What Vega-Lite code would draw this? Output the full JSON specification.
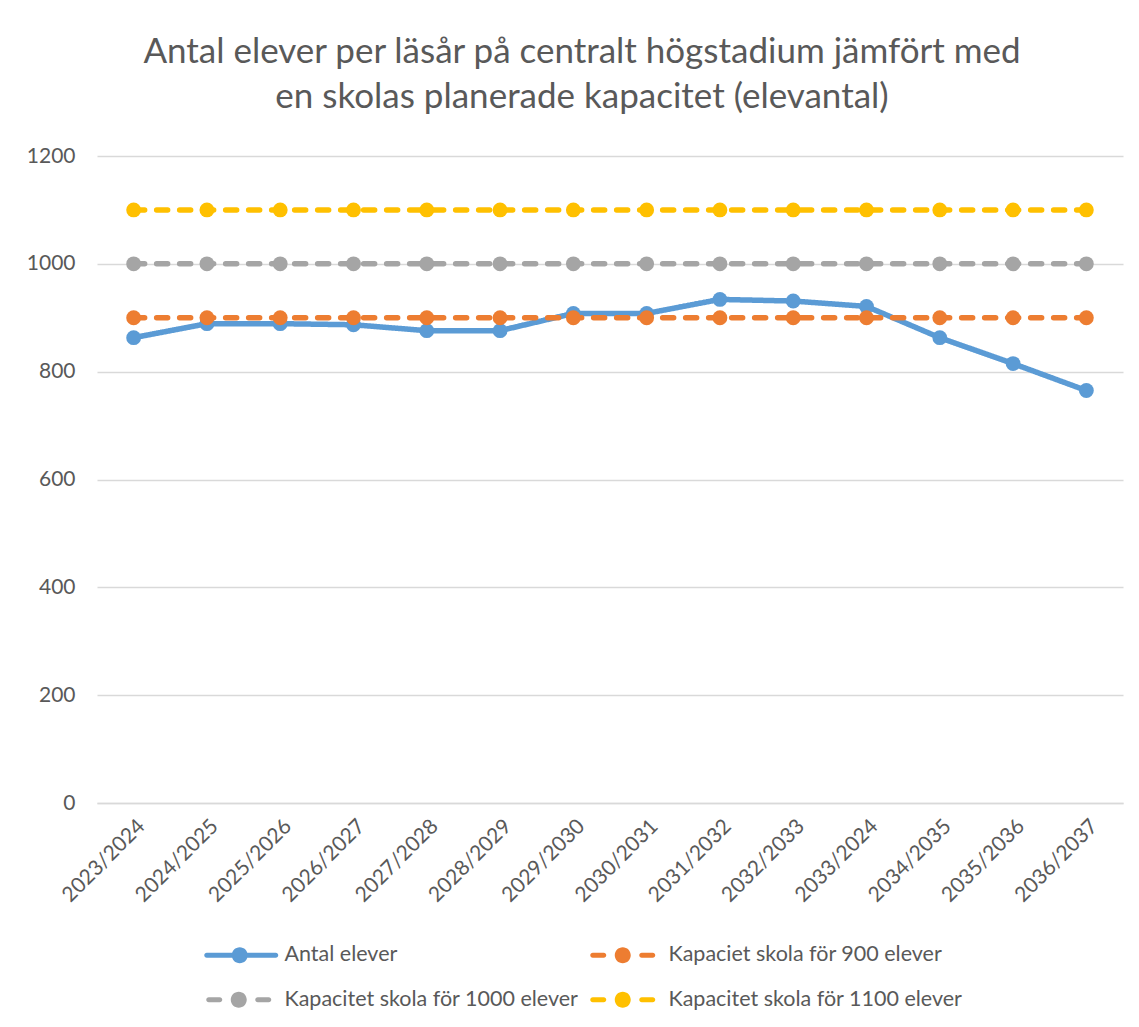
{
  "$schema": "https://vega.github.io/schema/vega-lite/v6.json",
  "autosize": {"type": "none"},
  "width": 1026,
  "height": 647,
  "padding": {"left": 97, "top": 156, "right": 16, "bottom": 224},
  "background": "white",
  "title": {
    "text": ["Antal elever per läsår på centralt högstadium jämfört med", "en skolas planerade kapacitet (elevantal)"],
    "font": "Lato",
    "fontSize": 35,
    "fontWeight": "normal",
    "color": "#595959",
    "anchor": "middle",
    "dx": -28,
    "lineHeight": 45,
    "offset": 30
  },
  "config": {
    "view": {"stroke": null},
    "font": "Lato"
  },
  "resolve": {"legend": {"color": "independent", "shape": "independent", "strokeDash": "independent"}},
  "data": {
    "values": [
      {"year": "2023/2024", "series": "Antal elever", "value": 863},
      {"year": "2024/2025", "series": "Antal elever", "value": 889},
      {"year": "2025/2026", "series": "Antal elever", "value": 889},
      {"year": "2026/2027", "series": "Antal elever", "value": 887},
      {"year": "2027/2028", "series": "Antal elever", "value": 876},
      {"year": "2028/2029", "series": "Antal elever", "value": 876},
      {"year": "2029/2030", "series": "Antal elever", "value": 908},
      {"year": "2030/2031", "series": "Antal elever", "value": 908},
      {"year": "2031/2032", "series": "Antal elever", "value": 934},
      {"year": "2032/2033", "series": "Antal elever", "value": 931},
      {"year": "2033/2024", "series": "Antal elever", "value": 921},
      {"year": "2034/2035", "series": "Antal elever", "value": 863},
      {"year": "2035/2036", "series": "Antal elever", "value": 815},
      {"year": "2036/2037", "series": "Antal elever", "value": 765},
      {"year": "2023/2024", "series": "Kapaciet skola för 900 elever", "value": 900},
      {"year": "2024/2025", "series": "Kapaciet skola för 900 elever", "value": 900},
      {"year": "2025/2026", "series": "Kapaciet skola för 900 elever", "value": 900},
      {"year": "2026/2027", "series": "Kapaciet skola för 900 elever", "value": 900},
      {"year": "2027/2028", "series": "Kapaciet skola för 900 elever", "value": 900},
      {"year": "2028/2029", "series": "Kapaciet skola för 900 elever", "value": 900},
      {"year": "2029/2030", "series": "Kapaciet skola för 900 elever", "value": 900},
      {"year": "2030/2031", "series": "Kapaciet skola för 900 elever", "value": 900},
      {"year": "2031/2032", "series": "Kapaciet skola för 900 elever", "value": 900},
      {"year": "2032/2033", "series": "Kapaciet skola för 900 elever", "value": 900},
      {"year": "2033/2024", "series": "Kapaciet skola för 900 elever", "value": 900},
      {"year": "2034/2035", "series": "Kapaciet skola för 900 elever", "value": 900},
      {"year": "2035/2036", "series": "Kapaciet skola för 900 elever", "value": 900},
      {"year": "2036/2037", "series": "Kapaciet skola för 900 elever", "value": 900},
      {"year": "2023/2024", "series": "Kapacitet skola för 1000 elever", "value": 1000},
      {"year": "2024/2025", "series": "Kapacitet skola för 1000 elever", "value": 1000},
      {"year": "2025/2026", "series": "Kapacitet skola för 1000 elever", "value": 1000},
      {"year": "2026/2027", "series": "Kapacitet skola för 1000 elever", "value": 1000},
      {"year": "2027/2028", "series": "Kapacitet skola för 1000 elever", "value": 1000},
      {"year": "2028/2029", "series": "Kapacitet skola för 1000 elever", "value": 1000},
      {"year": "2029/2030", "series": "Kapacitet skola för 1000 elever", "value": 1000},
      {"year": "2030/2031", "series": "Kapacitet skola för 1000 elever", "value": 1000},
      {"year": "2031/2032", "series": "Kapacitet skola för 1000 elever", "value": 1000},
      {"year": "2032/2033", "series": "Kapacitet skola för 1000 elever", "value": 1000},
      {"year": "2033/2024", "series": "Kapacitet skola för 1000 elever", "value": 1000},
      {"year": "2034/2035", "series": "Kapacitet skola för 1000 elever", "value": 1000},
      {"year": "2035/2036", "series": "Kapacitet skola för 1000 elever", "value": 1000},
      {"year": "2036/2037", "series": "Kapacitet skola för 1000 elever", "value": 1000},
      {"year": "2023/2024", "series": "Kapacitet skola för 1100 elever", "value": 1100},
      {"year": "2024/2025", "series": "Kapacitet skola för 1100 elever", "value": 1100},
      {"year": "2025/2026", "series": "Kapacitet skola för 1100 elever", "value": 1100},
      {"year": "2026/2027", "series": "Kapacitet skola för 1100 elever", "value": 1100},
      {"year": "2027/2028", "series": "Kapacitet skola för 1100 elever", "value": 1100},
      {"year": "2028/2029", "series": "Kapacitet skola för 1100 elever", "value": 1100},
      {"year": "2029/2030", "series": "Kapacitet skola för 1100 elever", "value": 1100},
      {"year": "2030/2031", "series": "Kapacitet skola för 1100 elever", "value": 1100},
      {"year": "2031/2032", "series": "Kapacitet skola för 1100 elever", "value": 1100},
      {"year": "2032/2033", "series": "Kapacitet skola för 1100 elever", "value": 1100},
      {"year": "2033/2024", "series": "Kapacitet skola för 1100 elever", "value": 1100},
      {"year": "2034/2035", "series": "Kapacitet skola för 1100 elever", "value": 1100},
      {"year": "2035/2036", "series": "Kapacitet skola för 1100 elever", "value": 1100},
      {"year": "2036/2037", "series": "Kapacitet skola för 1100 elever", "value": 1100}
    ]
  },
  "encoding": {
    "x": {
      "field": "year",
      "type": "ordinal",
      "sort": null,
      "scale": {"type": "point", "padding": 0.5},
      "axis": {
        "title": null,
        "labelAngle": -45,
        "labelFontSize": 21,
        "labelColor": "#595959",
        "labelPadding": 12,
        "ticks": false,
        "domainColor": "#d9d9d9",
        "domainWidth": 1.5,
        "grid": false
      }
    },
    "y": {
      "field": "value",
      "type": "quantitative",
      "scale": {"domain": [0, 1200], "nice": false, "zero": true},
      "axis": {
        "title": null,
        "values": [0, 200, 400, 600, 800, 1000, 1200],
        "format": "d",
        "labelFontSize": 21,
        "labelColor": "#595959",
        "labelPadding": 22,
        "domain": false,
        "ticks": false,
        "gridColor": "#d9d9d9",
        "gridWidth": 1.5
      }
    }
  },
  "layer": [
    {
      "mark": {"type": "line", "strokeWidth": 5.5, "strokeCap": "round", "strokeJoin": "round"},
      "encoding": {
        "color": {
          "field": "series",
          "type": "nominal",
          "sort": null,
          "scale": {
            "domain": ["Antal elever", "Kapaciet skola för 900 elever", "Kapacitet skola för 1000 elever", "Kapacitet skola för 1100 elever"],
            "range": ["#5B9BD5", "#ED7D31", "#A5A5A5", "#FFC000"]
          },
          "legend": null
        },
        "strokeDash": {
          "field": "series",
          "type": "nominal",
          "sort": null,
          "scale": {
            "domain": ["Antal elever", "Kapaciet skola för 900 elever", "Kapacitet skola för 1000 elever", "Kapacitet skola för 1100 elever"],
            "range": [[1, 0], [11, 12], [11, 12], [11, 12]]
          },
          "legend": null
        }
      }
    },
    {
      "mark": {"type": "point", "filled": true, "opacity": 1, "size": 220, "shape": "circle"},
      "encoding": {
        "color": {"field": "series", "type": "nominal", "sort": null, "legend": null}
      }
    },
    {
      "mark": {"type": "point", "filled": true, "opacity": 0, "size": 400},
      "encoding": {
        "color": {
          "field": "series",
          "type": "nominal",
          "sort": null,
          "legend": {
            "title": null,
            "orient": "none",
            "legendX": 108,
            "legendY": 788,
            "columns": 2,
            "direction": "horizontal",
            "symbolSize": 400,
            "symbolStrokeWidth": 0,
            "symbolOpacity": 1,
            "labelOffset": 58,
            "labelFontSize": 21.5,
            "labelColor": "#595959",
            "labelFont": "Lato",
            "rowPadding": 22,
            "columnPadding": 10,
            "labelLimit": 0
          }
        },
        "shape": {
          "field": "series",
          "type": "nominal",
          "sort": null,
          "scale": {
            "domain": ["Antal elever", "Kapaciet skola för 900 elever", "Kapacitet skola för 1000 elever", "Kapacitet skola för 1100 elever"],
            "range": [
              "M-0.9,-0.25H6.0A0.25,0.25 0 0,1 6.0,0.25H-0.9A0.25,0.25 0 0,1 -0.9,-0.25Z M1.6,0A0.8,0.8 0 1,1 3.2,0A0.8,0.8 0 1,1 1.6,0Z",
              "M-0.7,-0.25H0.4A0.25,0.25 0 0,1 0.4,0.25H-0.7A0.25,0.25 0 0,1 -0.7,-0.25Z M4.2,-0.25H5.3A0.25,0.25 0 0,1 5.3,0.25H4.2A0.25,0.25 0 0,1 4.2,-0.25Z M1.5,0A0.8,0.8 0 1,1 3.1,0A0.8,0.8 0 1,1 1.5,0Z",
              "M-0.7,-0.25H0.4A0.25,0.25 0 0,1 0.4,0.25H-0.7A0.25,0.25 0 0,1 -0.7,-0.25Z M4.2,-0.25H5.3A0.25,0.25 0 0,1 5.3,0.25H4.2A0.25,0.25 0 0,1 4.2,-0.25Z M1.5,0A0.8,0.8 0 1,1 3.1,0A0.8,0.8 0 1,1 1.5,0Z",
              "M-0.7,-0.25H0.4A0.25,0.25 0 0,1 0.4,0.25H-0.7A0.25,0.25 0 0,1 -0.7,-0.25Z M4.2,-0.25H5.3A0.25,0.25 0 0,1 5.3,0.25H4.2A0.25,0.25 0 0,1 4.2,-0.25Z M1.5,0A0.8,0.8 0 1,1 3.1,0A0.8,0.8 0 1,1 1.5,0Z"
            ]
          },
          "legend": {
            "title": null,
            "orient": "none",
            "legendX": 108,
            "legendY": 788,
            "columns": 2,
            "direction": "horizontal",
            "symbolSize": 400,
            "symbolStrokeWidth": 0,
            "symbolOpacity": 1,
            "labelOffset": 58,
            "labelFontSize": 21.5,
            "labelColor": "#595959",
            "labelFont": "Lato",
            "rowPadding": 22,
            "columnPadding": 10,
            "labelLimit": 0
          }
        }
      }
    }
  ]
}
